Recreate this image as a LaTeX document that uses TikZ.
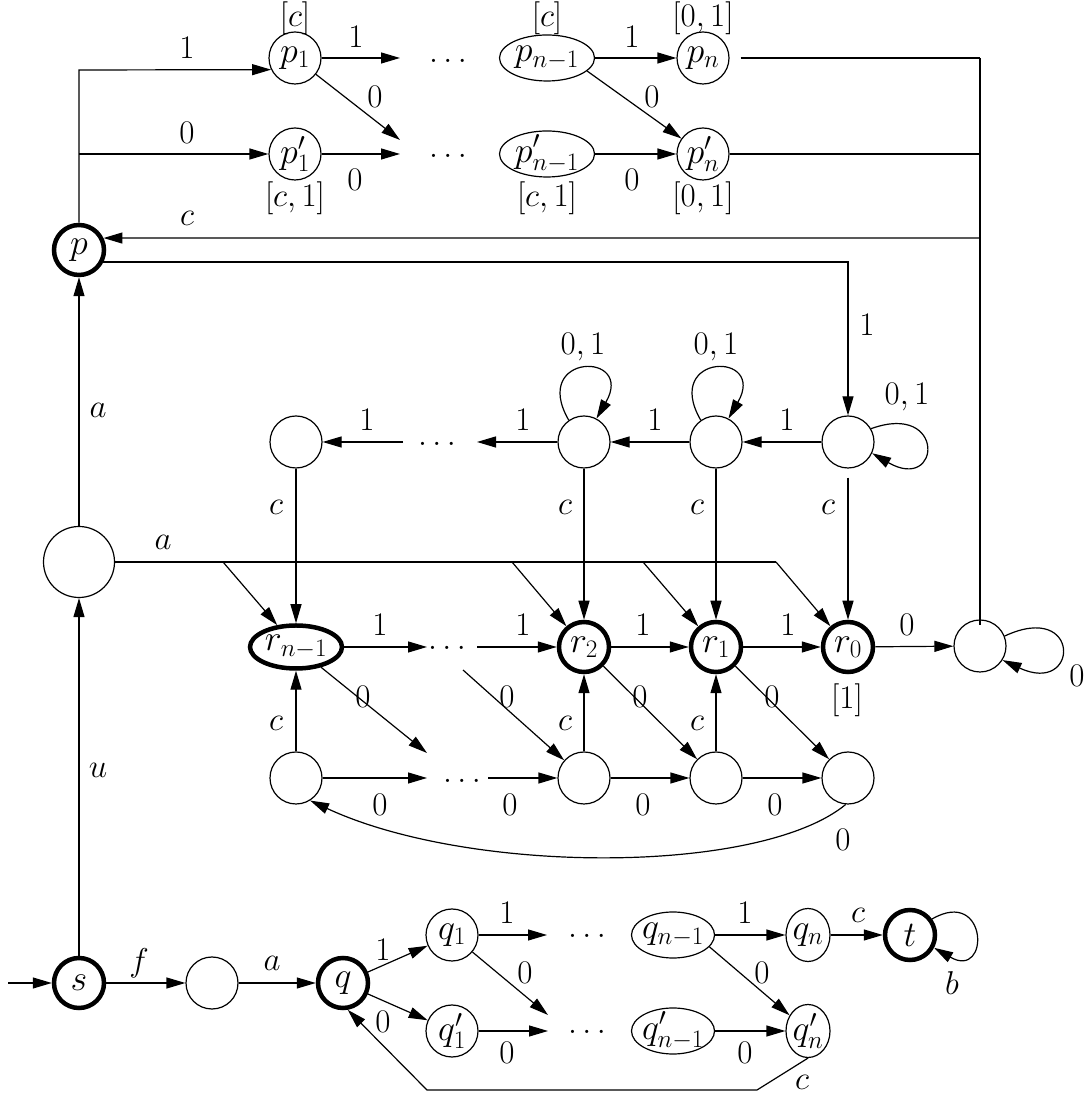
\RequirePackage{fix-cm}
\documentclass[tikz,border=0pt]{standalone}
\usetikzlibrary{arrows.meta,shapes.geometric}
\begin{document}
\begin{tikzpicture}[x=1pt,y=1pt,
  every node/.style={font=\fontsize{33}{40}\selectfont},
  nt/.style={font=\fontsize{36}{43}\selectfont},
  st/.style={circle,draw,nt,line width=1.2pt,minimum size=52pt,inner sep=-4pt},
  acc/.style={circle,draw,nt,line width=4.5pt,minimum size=50pt,inner sep=-4pt},
  el/.style={ellipse,draw,nt,line width=1.2pt,minimum width=95pt,minimum height=46pt,inner xsep=-10pt,inner ysep=-5pt},
  lb/.style={inner sep=0pt},
  ed/.style={line width=1.2pt,-{Triangle[length=19pt,width=11pt]}},
  ln/.style={line width=1.2pt},
]
\fill[white] (0,0) rectangle (1086,1097);
\useasboundingbox (0,0) rectangle (1086,1097);

% ---------- nodes ----------
\node[acc] (p) at (79,847) {$p$};
\node[st] (p1) at (295,1039) {$p_1$};
\node[st] (p1b) at (295,943) {$p'_1$};
\node[el] (pn1) at (547,1039) {$p_{n-1}$};
\node[el] (pn1b) at (547,943) {$p'_{n-1}$};
\node[st] (pn) at (703,1039) {$p_n$};
\node[st] (pnb) at (703,943) {$p'_n$};

\node[circle,draw,line width=1.2pt,minimum size=71pt,inner sep=0pt] (m) at (79,535) {};

\node[st] (t1) at (296,655) {};
\node[st] (t2) at (584,655) {};
\node[st] (t3) at (716,655) {};
\node[st] (t4) at (848,655) {};

\node[el,line width=4.5pt,minimum width=92pt,minimum height=43pt] (rn1) at (296,450) {$r_{n-1}$};
\node[acc] (r2) at (584,450) {$r_2$};
\node[acc] (r1) at (716,450) {$r_1$};
\node[acc] (r0) at (848,450) {$r_0$};
\node[st] (sink) at (980,451) {};

\node[st] (b1) at (296,319) {};
\node[st] (b2) at (584,319) {};
\node[st] (b3) at (716,319) {};
\node[st] (b4) at (848,319) {};

\node[acc] (s) at (79,114) {$s$};
\node[st] (n2) at (212,114) {};
\node[acc] (q) at (343,114) {$q$};
\node[st] (q1) at (452,162) {$q_1$};
\node[st] (q1b) at (452,66) {$q'_1$};
\node[el,minimum width=83pt] (qn1) at (673,162) {$q_{n-1}$};
\node[el,minimum width=83pt] (qn1b) at (673,66) {$q'_{n-1}$};
\node[el,minimum width=44pt,minimum height=53pt] (qn) at (808,162) {$q_n$};
\node[el,minimum width=44pt,minimum height=53pt] (qnb) at (808,66) {$q'_n$};
\node[acc] (t) at (910,162) {$t$};

% dots
\node[lb] (dt1) at (448,1036) {$\dots$};
\node[lb] (dt2) at (448,941) {$\dots$};
\node[lb] (dt3) at (437,653) {$\dots$};
\node[lb] (dt4) at (447,449) {$\dots$};
\node[lb] (dt5) at (462,316) {$\dots$};
\node[lb] (dt6) at (587,161) {$\dots$};
\node[lb] (dt7) at (587,65) {$\dots$};

% annotations
\node[lb] (a1) at (295,1079) {$[c]$};
\node[lb] (a2) at (295,899) {$[c,1]$};
\node[lb] (a3) at (547,1079) {$[c]$};
\node[lb] (a4) at (547,899) {$[c,1]$};
\node[lb] (a5) at (703,1079) {$[0,1]$};
\node[lb] (a6) at (703,899) {$[0,1]$};
\node[lb] (a7) at (847,397) {$[1]$};

% ---------- coordinates ----------
\coordinate (j1) at (79,1027);
\coordinate (j2) at (79,943);
\coordinate (d1a) at (400,1039);
\coordinate (d1b) at (400,957);
\coordinate (d2a) at (400,943);
\coordinate (rt1) at (980,1039);
\coordinate (rt2) at (980,943);
\coordinate (rt3) at (980,859);
\coordinate (h0) at (776,535);
\coordinate (hb1) at (223,535);
\coordinate (hb2) at (512,535);
\coordinate (hb3) at (643,535);
\coordinate (td1) at (477,655);
\coordinate (td2) at (403,655);
\coordinate (rd1) at (427,450);
\coordinate (rd2) at (477,450);
\coordinate (bd1) at (427,344);
\coordinate (bd0) at (463,427);
\coordinate (bd2) at (427,319);
\coordinate (bd3) at (488,319);
\coordinate (init) at (8,114);
\coordinate (qd1) at (547,162);
\coordinate (qd2) at (548,82);
\coordinate (qd3) at (548,66);
\coordinate (qc1) at (757,7);
\coordinate (qc2) at (427,7);

% ---------- top part ----------
\draw[ed] (p) -- (j1) -- (p1.206);
\draw[ed] (j2) -- (p1b);
\draw[ed] (p1) -- (d1a);
\draw[ed] (p1) -- (d1b);
\draw[ed] (p1b) -- (d2a);
\draw[ed] (pn1) -- (pn);
\draw[ed] (pn1.-18) -- (pnb);
\draw[ed] (pn1b) -- (pnb);
\draw[ln] ([xshift=11pt]pn.east) -- (rt1);
\draw[ln] (pnb) -- (rt2);
\draw[ln] (rt1) -- ([yshift=-6pt]sink.north);
\draw[ed] (rt3) -- (p.26);
\draw[ed] (p.-26) -| (t4);

\node[lb] (l1) at (187,1049) {$1$};
\node[lb] (l2) at (187,964) {$0$};
\node[lb] (l3) at (356,1060) {$1$};
\node[lb] (l4) at (375,1000) {$0$};
\node[lb] (l5) at (355,917) {$0$};
\node[lb] (l6) at (632,1060) {$1$};
\node[lb] (l7) at (652,1000) {$0$};
\node[lb] (l8) at (632,917) {$0$};
\node[lb] (l9) at (187,879) {$c$};
\node[lb] (l10) at (867,772) {$1$};

% ---------- left column ----------
\draw[ed] (m) -- (p);
\draw[ed] (s) -- (m);
\draw[ln] (m) -- (h0);
\draw[ed] (h0) -- (r0);
\draw[ed] (hb1) -- (rn1);
\draw[ed] (hb2) -- (r2);
\draw[ed] (hb3) -- (r1);
\node[lb] (l11) at (98,687) {$a$};
\node[lb] (l12) at (163,555) {$a$};
\node[lb] (l13) at (98,327) {$u$};

% ---------- upper row ----------
\draw[ed] (t4) -- (t3);
\draw[ed] (t3) -- (t2);
\draw[ed] (t2) -- (td1);
\draw[ed] (td2) -- (t1);
\draw[ed] (t2.125) .. controls +(120:78) and +(60:78) .. (t2.62);
\draw[ed] (t3.125) .. controls +(120:78) and +(60:78) .. (t3.62);
\draw[ed] (t4.30) .. controls +(20:80) and +(-30:80) .. (t4.-25);
\draw[ed] (t1) -- (rn1);
\draw[ed] (t2) -- (r2);
\draw[ed] (t3) -- (r1);
\draw[ed] ([yshift=-9pt]t4.south) -- (r0);
\node[lb] (l14) at (787,677) {$1$};
\node[lb] (l15) at (655,677) {$1$};
\node[lb] (l16) at (523,677) {$1$};
\node[lb] (l17) at (367,677) {$1$};
\node[lb] (l18) at (583,750) {$0,1$};
\node[lb] (l19) at (716,750) {$0,1$};
\node[lb] (l20) at (907,700) {$0,1$};
\node[lb] (l21) at (276,590) {$c$};
\node[lb] (l22) at (565,590) {$c$};
\node[lb] (l23) at (697,590) {$c$};
\node[lb] (l24) at (828,590) {$c$};

% ---------- r row ----------
\draw[ed] (rn1) -- (rd1);
\draw[ed] (rd2) -- (r2);
\draw[ed] (r2) -- (r1);
\draw[ed] (r1) -- (r0);
\draw[ed] (r0) -- (sink);
\draw[ed] (sink.22) .. controls +(25:85) and +(-25:85) .. (sink.-32);
\node[lb] (l25) at (380,472) {$1$};
\node[lb] (l26) at (523,472) {$1$};
\node[lb] (l27) at (643,472) {$1$};
\node[lb] (l28) at (788,472) {$1$};
\node[lb] (l29) at (907,472) {$0$};
\node[lb] (l42) at (1077,421) {$0$};

% diagonals
\draw[ed] (rn1) -- (bd1);
\draw[ed] (bd0) -- (b2);
\draw[ed] (r2) -- (b3);
\draw[ed] (r1) -- (b4);
\node[lb] (l30) at (363,400) {$0$};
\node[lb] (l31) at (507,400) {$0$};
\node[lb] (l32) at (640,400) {$0$};
\node[lb] (l33) at (772,400) {$0$};

% ---------- bottom row ----------
\draw[ed] (b1) -- (bd2);
\draw[ed] (bd3) -- (b2);
\draw[ed] (b2) -- (b3);
\draw[ed] (b3) -- (b4);
\draw[ed] (b1) -- (rn1);
\draw[ed] (b2) -- (r2);
\draw[ed] (b3) -- (r1);
\draw[ed] (b4.-95) .. controls (760,222) and (470,222) .. (b1.-58);
\node[lb] (l34) at (276,374) {$c$};
\node[lb] (l35) at (565,374) {$c$};
\node[lb] (l36) at (697,374) {$c$};
\node[lb] (l37) at (380,292) {$0$};
\node[lb] (l38) at (510,292) {$0$};
\node[lb] (l39) at (643,292) {$0$};
\node[lb] (l40) at (775,292) {$0$};
\node[lb] (l41) at (843,257) {$0$};

% ---------- q part ----------
\draw[ed] (init) -- (s);
\draw[ed] (s) -- (n2);
\draw[ed] (n2) -- (q);
\draw[ed] (q) -- (q1);
\draw[ed] (q) -- (q1b);
\draw[ed] (q1) -- (qd1);
\draw[ed] (q1) -- (qd2);
\draw[ed] (q1b) -- (qd3);
\draw[ed] (qn1) -- (qn);
\draw[ed] (qn1.-18) -- (qnb);
\draw[ed] (qn1b) -- (qnb);
\draw[ed] (qn) -- (t);
\draw[ed] (t.36) .. controls +(30:65) and +(-30:65) .. (t.-28);
\draw[ed] (qnb.south) -- (qc1) -- (qc2) -- (q.-80);
\node[lb] (l43) at (139,134) {$f$};
\node[lb] (l44) at (272,134) {$a$};
\node[lb] (l45) at (383,147) {$1$};
\node[lb] (l46) at (383,75) {$0$};
\node[lb] (l47) at (507,184) {$1$};
\node[lb] (l48) at (525,124) {$0$};
\node[lb] (l49) at (507,44) {$0$};
\node[lb] (l50) at (745,184) {$1$};
\node[lb] (l51) at (762,124) {$0$};
\node[lb] (l52) at (745,44) {$0$};
\node[lb] (l53) at (858,182) {$c$};
\node[lb] (l54) at (952,114) {$b$};
\node[lb] (l55) at (802,15) {$c$};
\end{tikzpicture}
\end{document}
